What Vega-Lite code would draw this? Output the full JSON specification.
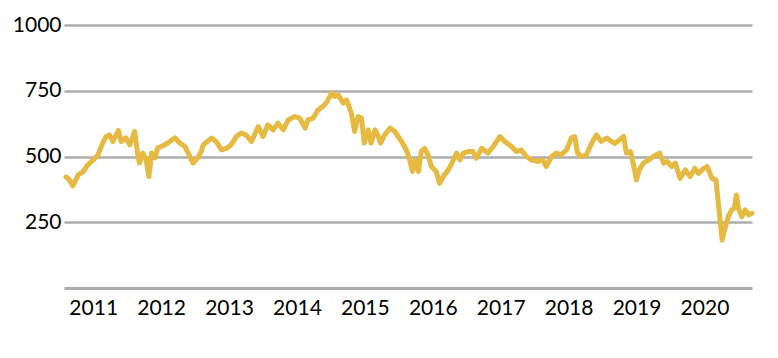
{
  "$schema": "https://vega.github.io/schema/vega-lite/v6.json",
  "width": 688,
  "height": 263,
  "autosize": {"type": "none"},
  "padding": {"left": 64, "top": 25, "right": 26, "bottom": 70},
  "background": "white",
  "config": {"view": {"stroke": null}, "font": "Lato"},
  "data": {"values": [
    {"t": 2010.60, "v": 422}, {"t": 2010.65, "v": 411}, {"t": 2010.70, "v": 388}, {"t": 2010.78, "v": 430},
    {"t": 2010.85, "v": 442}, {"t": 2010.92, "v": 468}, {"t": 2011.00, "v": 487}, {"t": 2011.07, "v": 506},
    {"t": 2011.14, "v": 552}, {"t": 2011.19, "v": 576}, {"t": 2011.24, "v": 582}, {"t": 2011.29, "v": 557},
    {"t": 2011.37, "v": 599}, {"t": 2011.41, "v": 557}, {"t": 2011.48, "v": 571}, {"t": 2011.54, "v": 544},
    {"t": 2011.61, "v": 595}, {"t": 2011.66, "v": 500}, {"t": 2011.68, "v": 475}, {"t": 2011.73, "v": 513},
    {"t": 2011.78, "v": 487}, {"t": 2011.82, "v": 424}, {"t": 2011.86, "v": 513}, {"t": 2011.91, "v": 495},
    {"t": 2011.95, "v": 533}, {"t": 2012.00, "v": 538}, {"t": 2012.05, "v": 544}, {"t": 2012.13, "v": 557},
    {"t": 2012.20, "v": 571}, {"t": 2012.27, "v": 552}, {"t": 2012.35, "v": 538}, {"t": 2012.40, "v": 513},
    {"t": 2012.47, "v": 475}, {"t": 2012.54, "v": 495}, {"t": 2012.59, "v": 519}, {"t": 2012.62, "v": 544},
    {"t": 2012.74, "v": 570}, {"t": 2012.81, "v": 557}, {"t": 2012.89, "v": 525}, {"t": 2012.96, "v": 531},
    {"t": 2013.03, "v": 544}, {"t": 2013.11, "v": 576}, {"t": 2013.18, "v": 589}, {"t": 2013.25, "v": 582},
    {"t": 2013.33, "v": 557}, {"t": 2013.43, "v": 614}, {"t": 2013.50, "v": 576}, {"t": 2013.57, "v": 620},
    {"t": 2013.65, "v": 601}, {"t": 2013.72, "v": 627}, {"t": 2013.80, "v": 601}, {"t": 2013.87, "v": 639},
    {"t": 2013.97, "v": 652}, {"t": 2014.04, "v": 646}, {"t": 2014.12, "v": 608}, {"t": 2014.16, "v": 639},
    {"t": 2014.24, "v": 646}, {"t": 2014.31, "v": 677}, {"t": 2014.38, "v": 690}, {"t": 2014.43, "v": 703},
    {"t": 2014.51, "v": 741}, {"t": 2014.56, "v": 728}, {"t": 2014.61, "v": 734}, {"t": 2014.68, "v": 703},
    {"t": 2014.73, "v": 715}, {"t": 2014.80, "v": 665}, {"t": 2014.85, "v": 595}, {"t": 2014.90, "v": 652},
    {"t": 2014.95, "v": 646}, {"t": 2014.99, "v": 551}, {"t": 2015.05, "v": 601}, {"t": 2015.09, "v": 551},
    {"t": 2015.15, "v": 601}, {"t": 2015.19, "v": 582}, {"t": 2015.23, "v": 551}, {"t": 2015.29, "v": 582},
    {"t": 2015.37, "v": 608}, {"t": 2015.44, "v": 595}, {"t": 2015.54, "v": 557}, {"t": 2015.61, "v": 525},
    {"t": 2015.66, "v": 487}, {"t": 2015.70, "v": 443}, {"t": 2015.74, "v": 487}, {"t": 2015.79, "v": 443},
    {"t": 2015.83, "v": 519}, {"t": 2015.88, "v": 531}, {"t": 2015.93, "v": 506}, {"t": 2015.98, "v": 462},
    {"t": 2016.05, "v": 443}, {"t": 2016.10, "v": 398}, {"t": 2016.17, "v": 430}, {"t": 2016.23, "v": 449},
    {"t": 2016.28, "v": 474}, {"t": 2016.35, "v": 513}, {"t": 2016.40, "v": 487}, {"t": 2016.45, "v": 513},
    {"t": 2016.52, "v": 519}, {"t": 2016.59, "v": 519}, {"t": 2016.64, "v": 493}, {"t": 2016.72, "v": 531},
    {"t": 2016.81, "v": 513}, {"t": 2016.89, "v": 538}, {"t": 2016.99, "v": 576}, {"t": 2017.06, "v": 557},
    {"t": 2017.16, "v": 538}, {"t": 2017.23, "v": 519}, {"t": 2017.30, "v": 525}, {"t": 2017.38, "v": 500},
    {"t": 2017.45, "v": 487}, {"t": 2017.55, "v": 481}, {"t": 2017.62, "v": 487}, {"t": 2017.67, "v": 462},
    {"t": 2017.75, "v": 500}, {"t": 2017.82, "v": 513}, {"t": 2017.89, "v": 506}, {"t": 2017.97, "v": 525},
    {"t": 2018.04, "v": 570}, {"t": 2018.09, "v": 576}, {"t": 2018.13, "v": 513}, {"t": 2018.19, "v": 500},
    {"t": 2018.26, "v": 506}, {"t": 2018.34, "v": 551}, {"t": 2018.41, "v": 582}, {"t": 2018.48, "v": 557},
    {"t": 2018.56, "v": 570}, {"t": 2018.63, "v": 557}, {"t": 2018.68, "v": 550}, {"t": 2018.75, "v": 563},
    {"t": 2018.81, "v": 576}, {"t": 2018.85, "v": 513}, {"t": 2018.91, "v": 519}, {"t": 2018.95, "v": 475},
    {"t": 2019.00, "v": 411}, {"t": 2019.04, "v": 449}, {"t": 2019.10, "v": 475}, {"t": 2019.18, "v": 487},
    {"t": 2019.25, "v": 500}, {"t": 2019.34, "v": 513}, {"t": 2019.40, "v": 475}, {"t": 2019.45, "v": 481},
    {"t": 2019.52, "v": 462}, {"t": 2019.57, "v": 475}, {"t": 2019.64, "v": 417}, {"t": 2019.72, "v": 449},
    {"t": 2019.79, "v": 424}, {"t": 2019.86, "v": 455}, {"t": 2019.91, "v": 436}, {"t": 2019.99, "v": 455},
    {"t": 2020.04, "v": 462}, {"t": 2020.11, "v": 417}, {"t": 2020.17, "v": 411}, {"t": 2020.21, "v": 309},
    {"t": 2020.25, "v": 208}, {"t": 2020.26, "v": 182}, {"t": 2020.31, "v": 233}, {"t": 2020.35, "v": 271},
    {"t": 2020.40, "v": 297}, {"t": 2020.44, "v": 303}, {"t": 2020.47, "v": 354}, {"t": 2020.50, "v": 303},
    {"t": 2020.55, "v": 271}, {"t": 2020.60, "v": 297}, {"t": 2020.65, "v": 278}, {"t": 2020.70, "v": 284}
  ]},
  "mark": {"type": "line", "color": "#e6b940", "strokeWidth": 5, "strokeJoin": "round", "strokeCap": "round", "clip": false},
  "encoding": {
    "x": {
      "field": "t", "type": "quantitative",
      "scale": {"domain": [2010.57, 2020.70], "nice": false, "zero": false},
      "axis": {
        "title": null, "values": [2011, 2012, 2013, 2014, 2015, 2016, 2017, 2018, 2019, 2020],
        "format": "d", "grid": false, "ticks": false,
        "domainColor": "#adadad", "domainWidth": 3,
        "labelFontSize": 21, "labelColor": "#000000", "labelPadding": 9, "labelFont": "Lato"
      }
    },
    "y": {
      "field": "v", "type": "quantitative",
      "scale": {"domain": [0, 1000], "nice": false, "zero": true},
      "axis": {
        "title": null, "values": [250, 500, 750, 1000], "format": "d",
        "domain": false, "ticks": false, "grid": true,
        "gridColor": "#adadad", "gridWidth": 2.5,
        "labelFontSize": 21, "labelColor": "#000000", "labelPadding": 3, "labelFont": "Lato"
      }
    }
  }
}
